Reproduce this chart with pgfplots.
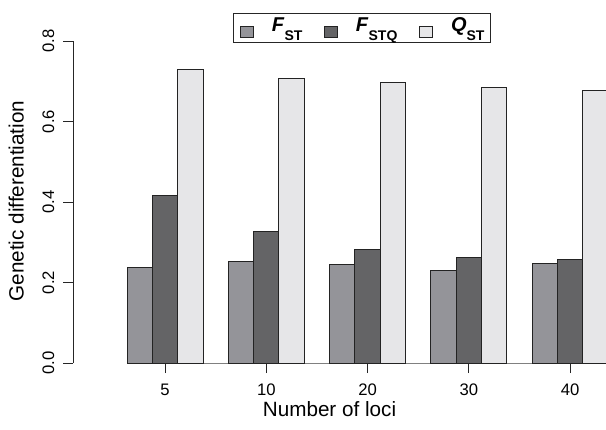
\documentclass[border=0pt]{standalone}
\usepackage{fontspec}
\setmainfont{Liberation Sans}
\usepackage{pgfplots}
\pgfplotsset{compat=1.18}
\definecolor{cF}{RGB}{148,148,153}
\definecolor{cFQ}{RGB}{100,100,102}
\definecolor{cQ}{RGB}{230,230,232}
\definecolor{edge}{RGB}{35,35,35}
\begin{document}
\begin{tikzpicture}
\begin{axis}[
  x=75.975pt, y=301.875pt,
  xmin=-0.908, xmax=4.353, ymin=0, ymax=0.8,
  clip=false,
  axis x line*=bottom, axis y line*=left,
  x axis line style={draw=none},
  y axis line style={line width=0.75pt, draw=black!85, -},
  every tick/.style={line width=0.75pt, draw=black!85},
  tick align=outside,
  major tick length=7.5pt,
  xtick={0,1,2,3,4},
  xticklabels={5,10,20,30,40},
  ytick={0,0.2,0.4,0.6,0.8},
  /pgf/number format/assume math mode=true,
  yticklabel={\pgfmathprintnumber[fixed,fixed zerofill,precision=1]{\tick}},
  tick label style={font=\fontsize{12.5}{15}\selectfont},
  yticklabel style={rotate=90, anchor=base},
  xticklabel style={anchor=base},
  yticklabel shift=6.75pt,
  xticklabel shift=16.5pt,
  xlabel={Number of loci},
  ylabel={Genetic differentiation},
  label style={font=\fontsize{15.5}{18}\selectfont},
  xlabel style={at={(axis description cs:0.4812,-0.1646)}, anchor=base},
  ylabel style={at={(axis description cs:-0.0929,0.503)}, anchor=base, rotate=0},
  legend columns=3,
  legend image code/.code={\draw[#1, line width=0.75pt, draw=edge] (0pt,-4.1pt) rectangle (9.75pt,4.1pt);},
  legend style={at={(axis description cs:0.3008,1.0879)}, anchor=north west,
    draw=black!85, line width=0.75pt, inner xsep=4.3pt, inner ysep=3.5pt,
    font=\fontsize{15}{18}\selectfont,
    nodes={inner sep=0pt, anchor=base west},
    /tikz/every odd column/.append style={column sep=13.7pt},
    /tikz/every even column/.append style={column sep=16pt}},
]
\draw[line width=0.75pt, draw=black!50] (axis cs:0,0) -- (axis cs:4,0);
\addplot[ybar, bar width=0.25, bar shift=-0.25, fill=cF, draw=edge, line width=0.75pt]
  coordinates {(0,0.237) (1,0.253) (2,0.245) (3,0.229) (4,0.248)};
\addlegendentry{\textbf{\textit{F}}\raisebox{-6.75pt}{\fontsize{10.5}{12}\selectfont\bfseries ST}}
\addplot[ybar, bar width=0.25, bar shift=0, fill=cFQ, draw=edge, line width=0.75pt]
  coordinates {(0,0.416) (1,0.328) (2,0.283) (3,0.263) (4,0.256)};
\addlegendentry{\textbf{\textit{F}}\raisebox{-6.75pt}{\fontsize{10.5}{12}\selectfont\bfseries STQ}}
\addplot[ybar, bar width=0.25, bar shift=0.25, fill=cQ, draw=edge, line width=0.75pt]
  coordinates {(0,0.730) (1,0.707) (2,0.698) (3,0.684) (4,0.677)};
\addlegendentry{\textbf{\textit{Q}}\raisebox{-6.75pt}{\fontsize{10.5}{12}\selectfont\bfseries ST}}
\coordinate (BL) at (axis cs:-1.629,-0.164);
\coordinate (TR) at (axis cs:4.353,0.9019);
\end{axis}
\pgfresetboundingbox
\useasboundingbox (BL) rectangle (TR);
\end{tikzpicture}
\end{document}
